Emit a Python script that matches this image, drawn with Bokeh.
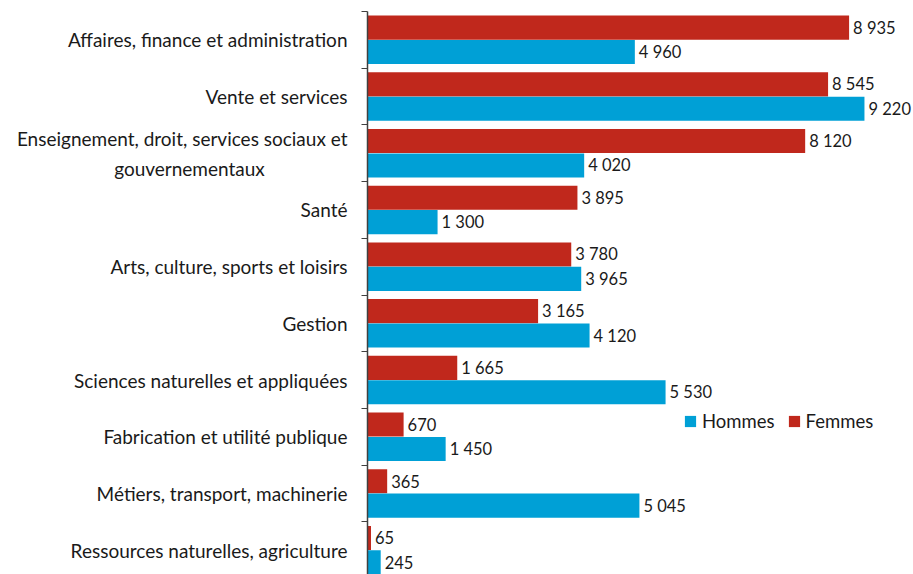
from bokeh.plotting import figure
from bokeh.models import Range1d, FixedTicker, Legend, LegendItem, ColumnDataSource
from bokeh.embed import file_html
from bokeh.resources import INLINE
from bokeh.core.properties import value

NBSP = "\u00a0"
categories = [
    "Affaires, finance et administration",
    "Vente et services",
    "Enseignement, droit, services sociaux et\ngouvernementaux" + NBSP * 17,
    "Santé",
    "Arts, culture, sports et loisirs",
    "Gestion",
    "Sciences naturelles et appliquées",
    "Fabrication et utilité publique",
    "Métiers, transport, machinerie",
    "Ressources naturelles, agriculture",
]
femmes = [8935, 8545, 8120, 3895, 3780, 3165, 1665, 670, 365, 65]
hommes = [4960, 9220, 4020, 1300, 3965, 4120, 5530, 1450, 5045, 245]

RED = "#C0281C"
BLUE = "#00A0D6"
FONT = "Lato"
TXT = "#1a1a1a"

n = len(categories)
ypos = [n - 1 - i for i in range(n)]

def fmt(v):
    return f"{v:,}".replace(",", " ")

W, H = 913, 574
unit_px = 56.7
top_border = 11
left_border = 367
frame_h = H - top_border
y_end = n - 0.5
y_start = y_end - frame_h / unit_px
px_per_unit = 0.0539

p = figure(width=W, height=H, output_backend="svg", toolbar_location=None,
           x_range=Range1d(0, (W - left_border) / px_per_unit), y_range=Range1d(y_start, y_end),
           min_border_left=left_border, min_border_right=0, min_border_top=top_border,
           min_border_bottom=0, x_axis_location=None)
p.outline_line_color = None
p.xgrid.visible = False
p.ygrid.visible = False
p.background_fill_color = "white"
p.border_fill_color = "white"

off = 0.215
hgt = 0.425
srcF = ColumnDataSource(dict(y=[v + off for v in ypos], x=femmes, lab=[fmt(v) for v in femmes]))
srcH = ColumnDataSource(dict(y=[v - off for v in ypos], x=hommes, lab=[fmt(v) for v in hommes]))

rF = p.hbar(y="y", right="x", left=0, height=hgt, source=srcF, fill_color=RED, line_color=None)
rH = p.hbar(y="y", right="x", left=0, height=hgt, source=srcH, fill_color=BLUE, line_color=None)

for src in (srcF, srcH):
    p.text(x="x", y="y", text="lab", source=src, x_offset=4, text_baseline="middle",
           text_align="left", text_font=value(FONT), text_font_size="16.5px", text_color=TXT)

ax = p.yaxis[0]
ax.ticker = FixedTicker(ticks=ypos, minor_ticks=[v + 0.5 for v in ypos] + [-0.5])
ax.major_label_overrides = {y: c for y, c in zip(ypos, categories)}
ax.major_tick_out = 0
ax.major_tick_in = 0
ax.minor_tick_out = 6
ax.minor_tick_in = 0
ax.minor_tick_line_color = "#404040"
ax.axis_line_color = "#404040"
ax.axis_line_width = 1.5
ax.major_label_standoff = 14
ax.major_label_text_font = FONT
ax.major_label_text_font_size = "19px"
ax.major_label_text_line_height = 1.3
ax.major_label_text_color = TXT

legend = Legend(items=[LegendItem(label="Hommes", renderers=[rH]),
                       LegendItem(label="Femmes", renderers=[rF])],
                location=(316, 142), orientation="horizontal")
legend.padding = 0
legend.margin = 0
legend.spacing = 12
legend.glyph_width = 14
legend.glyph_height = 14
legend.label_height = 20
legend.label_standoff = 5
legend.border_line_alpha = 0
legend.background_fill_alpha = 0
legend.label_text_font = FONT
legend.label_text_font_size = "18.5px"
legend.label_text_color = TXT
p.add_layout(legend, "center")

open("out.html", "w").write(file_html(p, INLINE))
